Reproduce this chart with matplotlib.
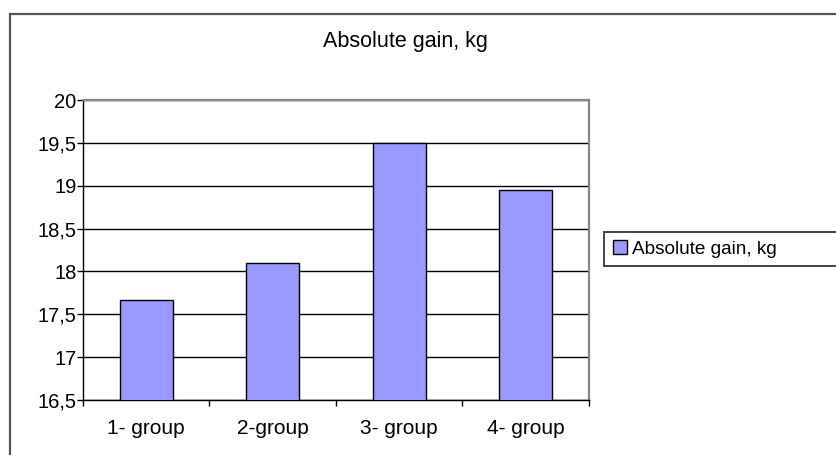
import matplotlib
matplotlib.use("Agg")
import matplotlib.pyplot as plt
from matplotlib.patches import Rectangle
from matplotlib.ticker import FixedLocator, FuncFormatter

plt.rcParams['font.family'] = ['Liberation Sans', 'DejaVu Sans']

categories = ["1- group", "2-group", "3- group", "4- group"]
values = [17.67, 18.1, 19.5, 18.95]
series_name = "Absolute gain, kg"
title = "Absolute gain, kg"
yticks = [16.5, 17, 17.5, 18, 18.5, 19, 19.5, 20]

W, H = 837, 455
fig = plt.figure(figsize=(W / 100, H / 100), dpi=100)
fig.patch.set_facecolor("white")

# outer chart frame
fig.add_artist(Rectangle((10 / W, -0.1), 1.0, 1 - 14 / H + 0.1, transform=fig.transFigure,
                         facecolor="none", edgecolor="#555555", linewidth=1.6))

ax = fig.add_axes([83 / W, 1 - 400 / H, (589 - 83) / W, 300 / H])
x = list(range(len(categories)))
ax.bar(x, values, width=0.42, color="#9999FF", edgecolor="black", linewidth=1.0, zorder=3,
       label=series_name)
ax.set_xlim(-0.5, 3.5)
ax.set_ylim(16.5, 20)
ax.set_yticks(yticks)
ax.yaxis.set_major_formatter(FuncFormatter(lambda v, p: ("%g" % v).replace(".", ",")))
ax.yaxis.grid(True, color="black", linewidth=1.0, zorder=1)
ax.set_xticks(x)
ax.set_xticklabels(categories)
ax.xaxis.set_minor_locator(FixedLocator([-0.5, 0.5, 1.5, 2.5, 3.5]))
ax.tick_params(axis="x", which="major", length=0, pad=14, labelsize=15)
ax.tick_params(axis="x", which="minor", length=4, width=1.0, direction="out")
ax.tick_params(axis="y", length=4, width=1.0, pad=0.5, labelsize=14.5)
for s in ["left", "bottom"]:
    ax.spines[s].set_color("black")
    ax.spines[s].set_linewidth(1.0)
for s in ["top", "right"]:
    ax.spines[s].set_color("#888888")
    ax.spines[s].set_linewidth(1.6)
ax.set_axisbelow(True)

fig.text(405 / W, 1 - 42 / H, title, ha="center", va="center", fontsize=15.5)

# legend box (extends past right edge)
fig.add_artist(Rectangle((604 / W, 1 - 266 / H), 1.0, 34 / H, transform=fig.transFigure,
                         facecolor="white", edgecolor="#444444", linewidth=1.4))
leg = fig.legend(loc="center left", bbox_to_anchor=(607 / W, 1 - 249 / H), frameon=False,
                 fontsize=13.7, handlelength=0.75, handleheight=0.75, handletextpad=0.25,
                 borderaxespad=0, borderpad=0.3)

fig.savefig("out.png", dpi=100)
